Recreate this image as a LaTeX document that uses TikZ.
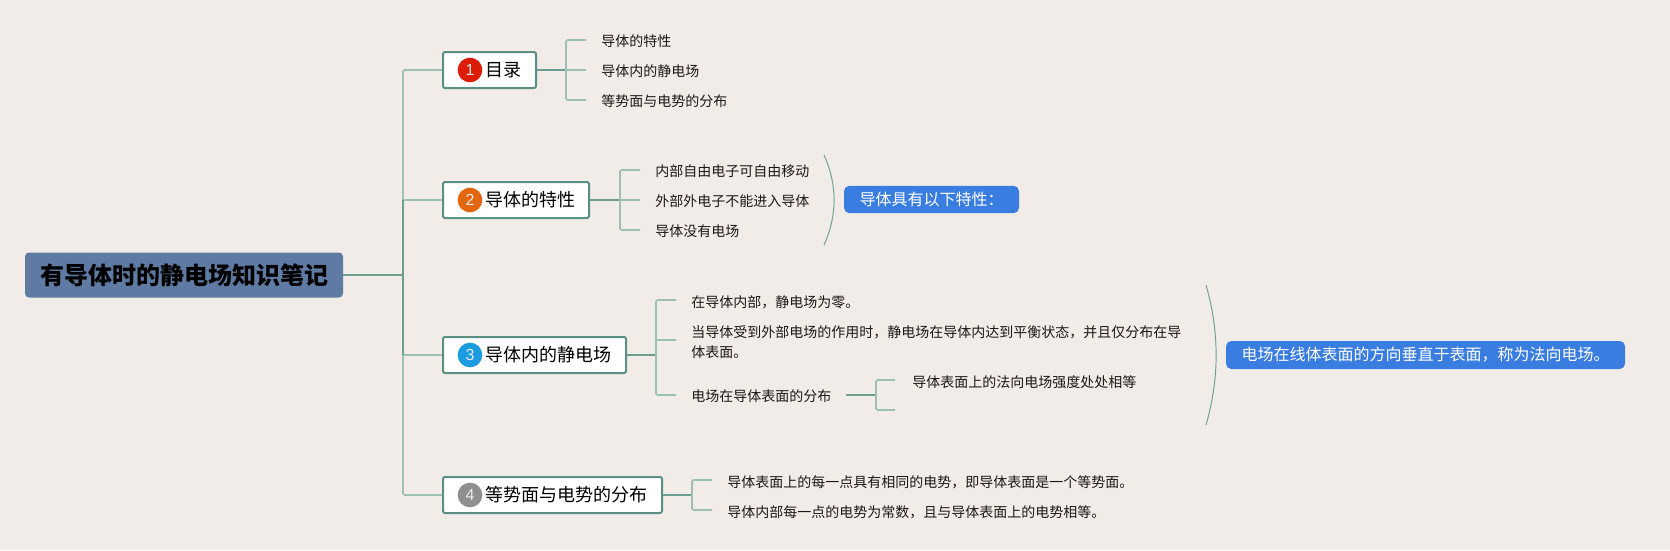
\documentclass[tikz,border=0pt]{standalone}
\usepackage{fontspec}
\setmainfont{Noto Sans CJK SC}
\newfontfamily\digitfont{Liberation Sans}
\definecolor{bgc}{HTML}{F1ECE7}
\definecolor{dark}{HTML}{6B9E90}
\definecolor{lite}{HTML}{9CC0B4}
\definecolor{boxline}{HTML}{5A9084}
\definecolor{rootc}{HTML}{5F7BA3}
\definecolor{bluec}{HTML}{3A7DE0}
\definecolor{ic1}{HTML}{DD1C05}
\definecolor{ic2}{HTML}{E2650F}
\definecolor{ic3}{HTML}{1B9BE0}
\definecolor{ic4}{HTML}{8F8F8F}
\tikzset{
  rootbox/.style={fill=rootc,rounded corners=3pt,inner sep=0pt,minimum width=238.5pt,minimum height=33.75pt,
    font=\fontsize{18pt}{22pt}\selectfont\bfseries,text=black},
  topicbox/.style={draw=boxline,line width=1.5pt,fill=white,rounded corners=1.5pt,inner sep=0pt,minimum height=27pt,
    font=\fontsize{13.5pt}{16pt}\selectfont,text=black},
  icon/.style={circle,fill=#1,minimum size=18.5pt,inner sep=0pt,text=white!92!black,font=\digitfont\fontsize{12pt}{14pt}\selectfont},
  sub/.style={anchor=west,inner sep=0pt,font=\fontsize{10.5pt}{15pt}\selectfont,text=black!90,align=left,text height=9.2pt,text depth=1.3pt},
  note/.style={fill=bluec,rounded corners=4pt,inner sep=0pt,font=\fontsize{12pt}{14pt}\selectfont,text=white,minimum height=20.5pt},
  litel/.style={draw=lite,line width=1.2pt,rounded corners=1.2pt},
  darkl/.style={draw=dark,line width=1.3pt},
  arcl/.style={draw=dark,line width=0.7pt}
}
\begin{document}
\begin{tikzpicture}[x=0.75pt,y=-0.75pt]
\path[use as bounding box,fill=bgc] (0,0) rectangle (1670,550);
% root
\node[rootbox] (root) at (184,275) {有导体时的静电场知识笔记};
\coordinate (trunk) at (403,275);
% topics
\node[topicbox,minimum width=69.75pt] (t1) at (489.5,70) {\hspace{21pt}目录};
\node[topicbox,minimum width=109.5pt] (t2) at (516,200) {\hspace{21pt}导体的特性};
\node[topicbox,minimum width=137.25pt] (t3) at (534.5,355) {\hspace{21pt}导体内的静电场};
\node[topicbox,minimum width=164.25pt] (t4) at (552.5,495) {\hspace{21pt}等势面与电势的分布};
\node[icon=ic1] (i1) at (470,70) {1};
\node[icon=ic2] (i2) at (470,200) {2};
\node[icon=ic3] (i3) at (470,355) {3};
\node[icon=ic4] (i4) at (470,495) {4};
% trunk coordinates
\coordinate (tk1) at (403,70);
\coordinate (tk2) at (403,200);
\coordinate (tk3) at (403,355);
\coordinate (tk4) at (403,495);
\draw[litel] (tk2) -- (tk1) -- (t1.west);
\draw[litel] (tk2) -- (t2.west);
\draw[litel] (tk3) -- (t3.west);
\draw[litel] (tk3) -- (tk4) -- (t4.west);
\draw[darkl] (tk2) -- (tk3);
\draw[darkl,line width=1.6pt] (root.east) -- (trunk);
% topic 1 children
\node[sub] (a1) at (601,41) {导体的特性};
\node[sub] (a2) at (601,71) {导体内的静电场};
\node[sub] (a3) at (601,101) {等势面与电势的分布};
\coordinate (fa) at (566,70);
\coordinate (fa1) at (586,40);
\coordinate (fa2) at (586,70);
\coordinate (fa3) at (586,100);
\draw[darkl] (t1.east) -- (fa);
\draw[litel] (fa) |- (fa1);
\draw[litel] (fa) -- (fa2);
\draw[litel] (fa) |- (fa3);
% topic 2 children
\node[sub] (b1) at (655,171) {内部自由电子可自由移动};
\node[sub] (b2) at (655,201) {外部外电子不能进入导体};
\node[sub] (b3) at (655,231) {导体没有电场};
\coordinate (fb) at (620,200);
\coordinate (fb1) at (640,170);
\coordinate (fb2) at (640,200);
\coordinate (fb3) at (640,230);
\draw[darkl] (t2.east) -- (fb);
\draw[litel] (fb) |- (fb1);
\draw[litel] (fb) -- (fb2);
\draw[litel] (fb) |- (fb3);
\coordinate (ab1) at (824,155);
\coordinate (ab2) at (824,245);
\draw[arcl] (ab1) .. controls (837.5,185) and (837.5,215) .. (ab2);
\node[note,minimum width=131.25pt] (n1) at (931.5,199.5) {导体具有以下特性：};
% topic 3 children
\node[sub] (c1) at (691,302) {在导体内部，静电场为零。};
\node[sub] (c2) at (691,352) {当导体受到外部电场的作用时，静电场在导体内达到平衡状态，并且仅分布在导\\体表面。};
\node[sub] (c3) at (691,396) {电场在导体表面的分布};
\node[sub] (c4) at (912,382) {导体表面上的法向电场强度处处相等};
\coordinate (fc) at (656,355);
\coordinate (fc1) at (676,300);
\coordinate (fc2) at (676,340);
\coordinate (fc3) at (676,395);
\draw[darkl] (t3.east) -- (fc);
\draw[litel] (fc) |- (fc1);
\draw[litel] (fc |- fc2) -- (fc2);
\draw[litel] (fc) |- (fc3);
\coordinate (gc0) at (846,395);
\coordinate (gc) at (876,395);
\coordinate (gc1) at (895,380);
\coordinate (gc2) at (895,410);
\draw[darkl] (gc0) -- (gc);
\draw[litel] (gc) |- (gc1);
\draw[litel] (gc) |- (gc2);
\coordinate (ac1) at (1206,285);
\coordinate (ac2) at (1206,425);
\draw[arcl] (ac1) .. controls (1219.5,332) and (1219.5,378) .. (ac2);
\node[note,minimum width=299.25pt,minimum height=21pt] (n2) at (1425.5,355) {电场在线体表面的方向垂直于表面，称为法向电场。};
% topic 4 children
\node[sub] (d1) at (727,482) {导体表面上的每一点具有相同的电势，即导体表面是一个等势面。};
\node[sub] (d2) at (727,512) {导体内部每一点的电势为常数，且与导体表面上的电势相等。};
\coordinate (fd) at (692,495);
\coordinate (fd1) at (712,480);
\coordinate (fd2) at (712,510);
\draw[darkl] (t4.east) -- (fd);
\draw[litel] (fd) |- (fd1);
\draw[litel] (fd) |- (fd2);
\end{tikzpicture}
\end{document}
